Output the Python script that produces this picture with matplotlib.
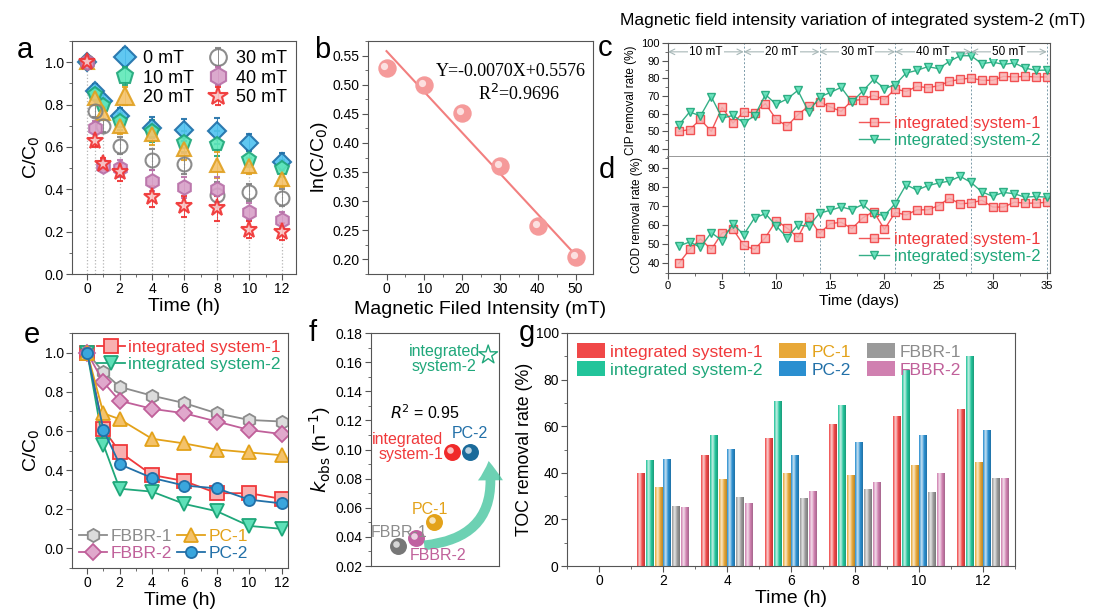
import matplotlib
matplotlib.use("Agg")
import numpy as np
import matplotlib.pyplot as plt
from matplotlib import transforms
from matplotlib.colors import LinearSegmentedColormap, to_rgb
from matplotlib.ticker import MultipleLocator, FormatStrFormatter

plt.rcParams['font.family'] = ['Liberation Sans', 'DejaVu Sans']

# ---- panel a : C/C0 under different field strengths
a_time = [0, 0.5, 1, 2, 4, 6, 8, 10, 12]
a_labels = ['0 mT', '10 mT', '20 mT', '30 mT', '40 mT', '50 mT']
a_0 = [1.0, 0.865, 0.815, 0.745, 0.69, 0.68, 0.675, 0.62, 0.53]
a_10 = [1.0, 0.85, 0.80, 0.72, 0.675, 0.625, 0.615, 0.545, 0.50]
a_20 = [1.0, 0.83, 0.76, 0.70, 0.66, 0.59, 0.515, 0.51, 0.45]
a_30 = [1.0, 0.77, 0.70, 0.605, 0.54, 0.52, 0.375, 0.385, 0.36]
a_40 = [1.0, 0.69, 0.51, 0.50, 0.44, 0.41, 0.40, 0.295, 0.255]
a_50 = [1.0, 0.63, 0.52, 0.48, 0.365, 0.32, 0.31, 0.21, 0.20]
a_err = [0.01, 0.03, 0.03, 0.04, 0.05, 0.05, 0.06, 0.04, 0.04]

# ---- panel b : ln(C/C0) vs field strength
b_field = [0, 10, 20, 30, 40, 50]
b_lnc = [0.528, 0.499, 0.451, 0.361, 0.258, 0.204]
b_slope = -0.0070
b_icpt = 0.5576

# ---- panels c/d : 35 day runs
days = list(range(1, 36))
cip_1 = [50, 51, 56.8, 50, 63.6, 54.7, 61, 60.6, 65.7, 56.8, 53, 59.4, 64.3, 66.8, 63.8,
         61.3, 67.5, 68, 70.4, 68, 74, 72.5, 75.5, 74.7, 75.8, 78.3, 79.4, 80.2, 78.9, 78.9,
         81.1, 80.8, 81.1, 80.8, 80.8]
cip_2 = [53.6, 61, 58.7, 69.6, 57.5, 59, 55, 58.7, 70.8, 65.3, 68.3, 73.2, 61, 69.4, 72,
         74.9, 66.6, 72.8, 79.4, 74.2, 76.4, 83, 84.5, 86.6, 85.5, 89.6, 92.8, 92.8, 88.3, 89.2,
         87.9, 88.7, 85.8, 84.5, 84.7]
cod_1 = [40, 47.3, 52.8, 47.3, 55.9, 58, 49.4, 47.3, 53.5, 62.4, 58.5, 53.6, 64.3, 55.7, 60.8,
         61.5, 58.2, 63.8, 67.1, 57.8, 66.7, 65.3, 68, 68, 70.2, 74.1, 71.1, 71.6, 73, 69.5,
         69.4, 72, 71.5, 71.5, 72]
cod_2 = [49.1, 51.2, 48.4, 56.1, 51.9, 60.6, 55, 63.8, 66, 59.6, 53.5, 60.1, 59.4, 66.2, 67.8,
         69.5, 68.1, 70.8, 66, 65, 71.3, 81.1, 78.3, 80.6, 82, 83, 85.5, 82.3, 77.4, 75.1,
         77.1, 76.4, 74.6, 75, 74.6]
stage_edges = [0, 7, 14, 21, 28, 35]
stage_names = ['10 mT', '20 mT', '30 mT', '40 mT', '50 mT']

# ---- panel e : six systems
e_time = [0, 1, 2, 4, 6, 8, 10, 12]
e_is1 = [1.0, 0.61, 0.493, 0.375, 0.344, 0.282, 0.282, 0.253]
e_is2 = [1.0, 0.53, 0.305, 0.29, 0.227, 0.19, 0.115, 0.10]
e_fbbr1 = [1.0, 0.90, 0.825, 0.78, 0.742, 0.69, 0.656, 0.648]
e_fbbr2 = [1.0, 0.849, 0.754, 0.713, 0.69, 0.648, 0.605, 0.584]
e_pc1 = [1.0, 0.69, 0.66, 0.56, 0.536, 0.505, 0.49, 0.476]
e_pc2 = [1.0, 0.605, 0.43, 0.36, 0.321, 0.307, 0.249, 0.23]

# ---- panel f : kobs
f_names = ['FBBR-1', 'FBBR-2', 'PC-1', 'integrated\nsystem-1', 'PC-2', 'integrated\nsystem-2']
f_kobs = [0.034, 0.039, 0.050, 0.098, 0.098, 0.165]

# ---- panel g : TOC removal
g_time = [0, 2, 4, 6, 8, 10, 12]
g_names = ['integrated system-1', 'integrated system-2', 'PC-1', 'PC-2', 'FBBR-1', 'FBBR-2']
g_is1 = [0, 39.5, 47.3, 54.8, 60.8, 64, 67]
g_is2 = [0, 45.3, 56.2, 70.5, 68.8, 84, 90]
g_pc1 = [0, 33.8, 37, 39.5, 39, 43.3, 44.3]
g_pc2 = [0, 45.8, 50, 47.5, 53, 56.2, 58.2]
g_fbbr1 = [0, 25.5, 29.3, 28.8, 32.8, 31.5, 37.5]
g_fbbr2 = [0, 25, 27, 31.8, 35.8, 39.5, 37.5]

RED, GREEN, ORANGE, BLUE, GREY, PINK = '#f0393b', '#1fa77a', '#e3a21a', '#2270a8', '#8c8c8c', '#c0609a'

W, H = 1102, 615
fig = plt.figure(figsize=(W / 100, H / 100), dpi=100)


def box(l, t, r, b):
    return fig.add_axes([l / W, 1 - b / H, (r - l) / W, (b - t) / H])


def style(ax, size=10):
    for s in ax.spines.values():
        s.set_color('#555555')
    ax.tick_params(which='both', direction='out', labelsize=size, color='#555555', pad=2)
    ax.tick_params(which='major', length=4)
    ax.tick_params(which='minor', length=2)


def sphere(ax, x, y, color, s):
    ax.scatter(x, y, s=s, color=color, zorder=3)
    hl = transforms.offset_copy(ax.transData, fig=fig, x=-1.5, y=1.5, units='points')
    ax.scatter(x, y, s=s * 0.18, color='white', alpha=0.7, transform=hl, zorder=4, lw=0)


def letter(x, y, s):
    fig.text(x / W, 1 - y / H, s, fontsize=21, ha='center', va='center')


# ================= a
ax = box(72, 41, 296, 274)
style(ax)
a_sets = [a_0, a_10, a_20, a_30, a_40, a_50]
a_mk = ['D', 'p', '^', 'o', 'h', '*']
a_fc = ['#4fc1f0', '#5ee8b8', '#f4c26a', 'none', '#d8a0c8', '#f9c4c4']
a_ec = ['#1e6fa8', '#1fa77a', '#e0a020', '#808080', '#b870a8', '#f03030']
a_ms = [9, 10.5, 10.5, 10, 10.5, 12.5]
top = np.max(a_sets, axis=0)
ax.vlines(a_time, 0, top, colors='#b5b5b5', linestyles=':', lw=0.9, zorder=0)
for vals, lab, mk, fc, ec, ms in zip(a_sets, a_labels, a_mk, a_fc, a_ec, a_ms):
    ax.errorbar(a_time, vals, yerr=a_err, fmt=mk, ms=ms, mfc=fc, mec=ec, mew=1.5,
                ecolor=ec, elinewidth=0.7, capsize=2, label=lab, alpha=0.9)
ax.set_xlim(-0.94, 12.88)
ax.set_ylim(0, 1.1)
ax.set_xticks(range(0, 13, 2))
ax.xaxis.set_minor_locator(MultipleLocator(1))
ax.yaxis.set_major_locator(MultipleLocator(0.2))
ax.yaxis.set_minor_locator(MultipleLocator(0.1))
ax.yaxis.set_major_formatter(FormatStrFormatter('%.1f'))
ax.set_xlabel('Time (h)', fontsize=14, labelpad=1)
ax.set_ylabel('C/C$_0$', fontsize=14, labelpad=2)
ax.legend(ncol=2, loc='upper right', fontsize=13, frameon=False, handletextpad=0.4,
          columnspacing=0.7, labelspacing=0.15, markerscale=1.2, borderaxespad=0.1,
          handlelength=1.2)
letter(25, 50, 'a')

# ================= b
ax = box(368, 41, 593, 274)
style(ax)
fit_x = np.array([b_field[0], b_field[-1]])
ax.plot(fit_x, b_slope * fit_x + b_icpt, color='#f27f7f', lw=1.5, zorder=2)
sphere(ax, b_field, b_lnc, '#f59a9a', 150)
ax.text(33, 0.515, 'Y=-0.0070X+0.5576', fontsize=13, family='Liberation Serif', ha='center')
ax.text(35, 0.474, 'R$^2$=0.9696', fontsize=13, family='Liberation Serif', ha='center')
ax.set_xlim(-4.9, 54.6)
ax.set_ylim(0.175, 0.575)
ax.set_xticks(b_field)
ax.xaxis.set_minor_locator(MultipleLocator(5))
ax.yaxis.set_major_locator(MultipleLocator(0.05))
ax.yaxis.set_minor_locator(MultipleLocator(0.025))
ax.yaxis.set_major_formatter(FormatStrFormatter('%.2f'))
ax.set_xlabel('Magnetic Filed Intensity (mT)', fontsize=14, labelpad=3)
ax.set_ylabel('ln(C/C$_0$)', fontsize=14, labelpad=2)
letter(322, 50, 'b')

# ================= c / d
axc = box(668, 43, 1050, 157)
axd = box(668, 157, 1050, 273)
for a_, y1, y2, ylab, lim, tks in [(axc, cip_1, cip_2, 'CIP removal rate (%)', (35.5, 100), range(40, 101, 10)),
                                   (axd, cod_1, cod_2, 'COD removal rate (%)', (35, 95.6), range(40, 91, 10))]:
    style(a_, 8)
    a_.plot(days, y1, '-s', color=RED, mfc='#f8b0b0', mec=RED, ms=5.5, lw=1, alpha=0.85,
            label='integrated system-1')
    a_.plot(days, y2, '-v', color=GREEN, mfc='#5ee0b8', mec=GREEN, ms=6, lw=1, alpha=0.9,
            label='integrated system-2')
    for e in stage_edges[1:]:
        a_.axvline(e, color='#7a9aa8', ls=(0, (2, 2)), lw=0.7, zorder=0)
    a_.set_xlim(0, 35.3)
    a_.set_ylim(*lim)
    a_.set_yticks(list(tks))
    a_.yaxis.set_minor_locator(MultipleLocator(5))
    a_.xaxis.set_minor_locator(MultipleLocator(2.5))
    a_.set_ylabel(ylab, fontsize=8.5, labelpad=3)
    a_.legend(loc='lower right', fontsize=12, frameon=False, handlelength=1.8,
              labelspacing=0.1, handletextpad=0.3, borderaxespad=0.15, labelcolor='linecolor')
axc.tick_params(axis='x', labelbottom=False, length=0, which='both')
axc.spines['bottom'].set_color('#888888')
axc.spines['bottom'].set_linewidth(1.2)
axd.spines['top'].set_visible(False)
axd.set_xticks(range(0, 36, 5))
axd.set_xlabel('Time (days)', fontsize=11, labelpad=2)
for (s0, s1), name in zip(zip(stage_edges[:-1], stage_edges[1:]), stage_names):
    axc.annotate('', xy=(s1, 95), xytext=(s0, 95),
                 arrowprops=dict(arrowstyle='<->', color='#a8b8b8', lw=0.8, shrinkA=0, shrinkB=0))
    axc.text((s0 + s1) / 2, 95, name, fontsize=8.5, ha='center', va='center',
             bbox=dict(facecolor='white', edgecolor='none', pad=1))
fig.text(853 / W, 1 - 20 / H, 'Magnetic field intensity variation of integrated system-2 (mT)',
         fontsize=12.5, ha='center', va='center')
letter(605, 48, 'c')
letter(607, 170, 'd')

# ================= e
ax = box(72, 333, 288, 568)
style(ax)
e_sets = [(e_is1, 's', RED, '#f8b0b0', 'integrated system-1'),
          (e_is2, 'v', GREEN, '#5ee0b8', 'integrated system-2'),
          (e_fbbr1, 'h', GREY, '#dcdcdc', 'FBBR-1'),
          (e_fbbr2, 'D', PINK, '#e0a8cc', 'FBBR-2'),
          (e_pc1, '^', ORANGE, '#f4c26a', 'PC-1'),
          (e_pc2, 'o', BLUE, '#3aa6dd', 'PC-2')]
hd = []
for vals, mk, c, fc, lab in e_sets:
    ms = 8 if mk in 'Do' else 9.5
    h, = ax.plot(e_time, vals, '-' + mk, color=c, mfc=fc, mec=c, ms=ms, mew=1.3, lw=1.3, label=lab)
    hd.append(h)
ax.set_xlim(-0.94, 12.4)
ax.set_ylim(-0.1, 1.1)
ax.set_xticks(range(0, 13, 2))
ax.xaxis.set_minor_locator(MultipleLocator(1))
ax.yaxis.set_major_locator(MultipleLocator(0.2))
ax.yaxis.set_minor_locator(MultipleLocator(0.1))
ax.yaxis.set_major_formatter(FormatStrFormatter('%.1f'))
ax.set_xlabel('Time (h)', fontsize=14, labelpad=1)
ax.set_ylabel('C/C$_0$', fontsize=14, labelpad=2)
leg1 = ax.legend(handles=hd[:2], loc='upper right', fontsize=12.5, frameon=False, handlelength=1.6,
                 labelspacing=0.1, handletextpad=0.2, borderaxespad=0.0, labelcolor='linecolor')
ax.add_artist(leg1)
ax.legend(handles=hd[2:], ncol=2, loc='lower left', fontsize=12.5, frameon=False, handlelength=1.6,
          labelspacing=0.1, handletextpad=0.2, columnspacing=0.3, borderaxespad=0.0,
          labelcolor='linecolor')
letter(32, 335, 'e')

# ================= f
ax = box(371, 333, 499, 566)
style(ax)
f_x = np.arange(len(f_kobs)) + 1.5
f_cols = ['#777777', '#c060a0', '#e3a21a', '#f02a2a', '#1a6a9a']
for i in range(5):
    sphere(ax, f_x[i], f_kobs[i], f_cols[i], 125)
ax.scatter(f_x[5], f_kobs[5], marker='*', s=200, facecolor='none', edgecolor=GREEN, lw=1, zorder=3)
ax.annotate('', xy=(6.5, 0.094), xytext=(2.8, 0.034),
            arrowprops=dict(arrowstyle='simple,head_width=1.8,head_length=1.4,tail_width=0.7',
                            color='#3cc29a', alpha=0.75, lw=0, connectionstyle='arc3,rad=0.55'))
fs = 11.5
ax.text(4.05, 0.162, f_names[5], color=GREEN, fontsize=fs, ha='center', va='center', linespacing=1.0)
ax.text(4.0, 0.102, f_names[3], color=RED, fontsize=fs, ha='right', va='center', linespacing=1.0)
ax.text(5.5, 0.111, f_names[4], color=BLUE, fontsize=fs, ha='center', va='center')
ax.text(3.27, 0.059, f_names[2], color=ORANGE, fontsize=fs, ha='center', va='center')
ax.text(3.15, 0.043, f_names[0], color=GREY, fontsize=fs, ha='right', va='center')
ax.text(3.7, 0.027, f_names[1], color=PINK, fontsize=fs, ha='center', va='center')
ax.text(1.05, 0.125, '$R$$^2$ = 0.95', fontsize=fs, ha='left', va='center')
ax.set_xlim(0, 7.1)
ax.set_ylim(0.02, 0.18)
ax.set_xticks([])
ax.yaxis.set_major_locator(MultipleLocator(0.02))
ax.yaxis.set_minor_locator(MultipleLocator(0.01))
ax.yaxis.set_major_formatter(FormatStrFormatter('%.2f'))
ax.set_ylabel('$k_{\\mathrm{obs}}$ (h$^{-1}$)', fontsize=14, labelpad=2)
letter(313, 333, 'f')

# ================= g
ax = box(567, 333, 1015, 566)
style(ax)
g_sets = [g_is1, g_is2, g_pc1, g_pc2, g_fbbr1, g_fbbr2]
g_cols = ['#f04848', '#22c49a', '#e8a838', '#2a8fd0', '#9a9a9a', '#d080b0']
step, bw = 0.27, 0.245
t = np.array(g_time, dtype=float)
handles = []
for i, (vals, c, name) in enumerate(zip(g_sets, g_cols, g_names)):
    bars = ax.bar(t + (i - 2.5) * step, vals, width=bw, color=c, label=name, zorder=2)
    handles.append(bars)
    base = np.array(to_rgb(c))
    light = base + (1 - base) * 0.75
    dark = base * 0.8
    cmap = LinearSegmentedColormap.from_list('g', [base, light, base, dark])
    for b in bars:
        if b.get_height() <= 0:
            continue
        x0 = b.get_x()
        ax.imshow(np.linspace(0, 1, 32).reshape(1, -1), cmap=cmap, aspect='auto', zorder=2.5,
                  extent=[x0, x0 + b.get_width(), 0, b.get_height()])
ax.set_xlim(-1, 13)
ax.set_ylim(0, 100)
ax.set_xticks(g_time)
ax.xaxis.set_minor_locator(MultipleLocator(1))
ax.yaxis.set_major_locator(MultipleLocator(20))
ax.yaxis.set_minor_locator(MultipleLocator(10))
ax.set_xlabel('Time (h)', fontsize=14, labelpad=1)
ax.set_ylabel('TOC removal rate (%)', fontsize=12.8, labelpad=2)
leg = ax.legend(handles=handles, ncol=3, loc='upper left', fontsize=12.5, frameon=False,
                handlelength=1.6, handleheight=0.9, labelspacing=0.1, handletextpad=0.3,
                columnspacing=0.9, borderaxespad=0.2)
for txt, c in zip(leg.get_texts(), [RED, GREEN, ORANGE, BLUE, GREY, PINK]):
    txt.set_color(c)
letter(527, 333, 'g')

fig.savefig('out.png', dpi=100, facecolor='white')
